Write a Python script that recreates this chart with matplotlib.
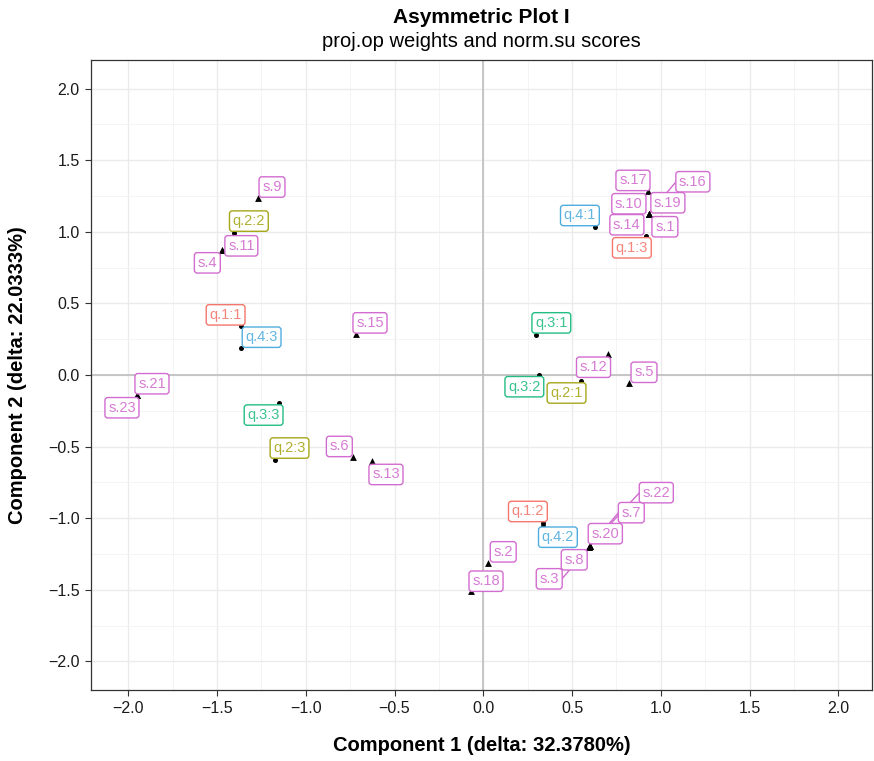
import numpy as np
import matplotlib.pyplot as plt
from matplotlib.ticker import MultipleLocator

plt.rcParams['font.family'] = ['Liberation Sans', 'DejaVu Sans']

# column categories (circles)
q_names = ['q.1:1', 'q.1:2', 'q.1:3', 'q.2:1', 'q.2:2', 'q.2:3',
           'q.3:1', 'q.3:2', 'q.3:3', 'q.4:1', 'q.4:2', 'q.4:3']
q_x = [-1.367, 0.336, 0.916, 0.548, -1.405, -1.176,
       0.299, 0.316, -1.153, 0.629, 0.336, -1.367]
q_y = [0.343, -1.037, 0.972, -0.042, 0.991, -0.594,
       0.280, 0.002, -0.196, 1.030, -1.056, 0.187]

# row scores (triangles)
s_names = ['s.%d' % i for i in range(1, 24)]
s_x = [0.933, 0.028, 0.597, -1.470, 0.821, -0.732, 0.603, 0.597, -1.269, 0.933,
       -1.470, 0.700, -0.627, 0.933, -0.717, 0.933, 0.928, -0.069, 0.933, 0.603,
       -1.951, 0.603, -1.951]
s_y = [1.126, -1.312, -1.200, 0.874, -0.058, -0.576, -1.192, -1.200, 1.236, 1.126,
       0.874, 0.145, -0.604, 1.126, 0.287, 1.126, 1.282, -1.510, 1.126, -1.192,
       -0.138, -1.192, -0.138]

x_label = 'Component 1 (delta: 32.3780%)'
y_label = 'Component 2 (delta: 22.0333%)'
title = 'Asymmetric Plot I'
subtitle = 'proj.op weights and norm.su scores'

# repelled label offsets, pixels (dx, dy up)
q_offsets = {
    'q.1:1': (-15, 11), 'q.1:2': (-15, 12), 'q.1:3': (-14, -12),
    'q.2:1': (-14, -12), 'q.2:2': (15, 12), 'q.2:3': (15, 12),
    'q.3:1': (15, 12), 'q.3:2': (-15, -12), 'q.3:3': (-15, -12),
    'q.4:1': (-15, 12), 'q.4:2': (15, -11), 'q.4:3': (21, 11),
}
s_offsets = {
    's.1': (16, -13), 's.2': (15, 11), 's.3': (-40, -32), 's.4': (-15, -13),
    's.5': (15, 11), 's.6': (-14, 11), 's.7': (41, 33), 's.8': (-15, -13),
    's.9': (14, 11), 's.10': (-20, 10), 's.11': (19, 4), 's.12': (-14, -13),
    's.13': (14, -13), 's.14': (-22, -11), 's.15': (14, 11), 's.16': (44, 32),
    's.17': (-15, 11), 's.18': (15, 10), 's.19': (19, 11), 's.20': (15, 12),
    's.21': (15, 11), 's.22': (66, 53), 's.23': (-15, -13),
}
with_segment = {'s.16', 's.22', 's.7', 's.3'}

hue = {'q.1': '#F3776C', 'q.2': '#A6A61A', 'q.3': '#22BD83',
       'q.4': '#4FADDF', 's': '#D26CD0'}


def label(ax, name, x, y, offset, color):
    ann = ax.annotate(name, (x, y), xytext=offset, textcoords='offset pixels',
                      ha='center', va='center', fontsize=10.5, color=color, alpha=0.9,
                      bbox=dict(boxstyle='round,pad=0.22,rounding_size=0.2',
                                fc='white', ec=color, lw=1.0),
                      zorder=5)
    if name in with_segment:
        # segment runs to the middle of the box side that faces the point
        renderer = ax.figure.canvas.get_renderer()
        half_w = ann.get_window_extent(renderer).width / 2 + 3
        px = ax.transData.transform((x, y)) + np.array(offset, dtype=float)
        px[0] -= np.sign(offset[0]) * half_w
        ex, ey = ax.transData.inverted().transform(px)
        ax.plot([x, ex], [y, ey], color=color, lw=1.0, zorder=2)


fig = plt.figure(figsize=(8.74, 7.61), dpi=100)
ax = fig.add_axes([0.1041, 0.0933, 0.8936, 0.8279])

ax.set_xlim(-2.21, 2.19)
ax.set_ylim(-2.2, 2.2)

ax.axhline(0, color='#BEBEBE', lw=1.2, zorder=1)
ax.axvline(0, color='#BEBEBE', lw=1.2, zorder=1)

ax.scatter(q_x, q_y, s=13, color='black', marker='o', zorder=3, linewidths=0)
ax.scatter(s_x, s_y, s=24, color='black', marker='^', zorder=3, linewidths=0)

for n, x, y in zip(q_names, q_x, q_y):
    label(ax, n, x, y, q_offsets[n], hue[n[:3]])
for n, x, y in zip(s_names, s_x, s_y):
    label(ax, n, x, y, s_offsets[n], hue['s'])

ax.set_xlim(-2.21, 2.19)
ax.set_ylim(-2.2, 2.2)
ax.xaxis.set_major_locator(MultipleLocator(0.5))
ax.yaxis.set_major_locator(MultipleLocator(0.5))
ax.xaxis.set_minor_locator(MultipleLocator(0.25))
ax.yaxis.set_minor_locator(MultipleLocator(0.25))
fmt = lambda v, p: ('%.1f' % v).replace('-', '\u2212')
ax.xaxis.set_major_formatter(fmt)
ax.yaxis.set_major_formatter(fmt)
ax.grid(which='major', color='#EBEBEB', lw=1.0, zorder=0)
ax.grid(which='minor', color='#F2F2F2', lw=0.6, zorder=0)
ax.set_axisbelow(True)
ax.tick_params(which='minor', length=0)
ax.tick_params(which='major', length=4, width=0.8, color='#333333',
               labelsize=11.5, labelcolor='#1A1A1A', pad=4)
for sp in ax.spines.values():
    sp.set_color('#333333')
    sp.set_linewidth(0.9)

ax.set_xlabel(x_label, fontsize=14.5, fontweight='bold', labelpad=14)
ax.set_ylabel(y_label, fontsize=14.5, fontweight='bold', labelpad=15)
fig.text(0.551, 0.977, title, ha='center', va='center', fontsize=15, fontweight='bold')
fig.text(0.551, 0.946, subtitle, ha='center', va='center', fontsize=14.5)

fig.savefig('out.png', dpi=100)
